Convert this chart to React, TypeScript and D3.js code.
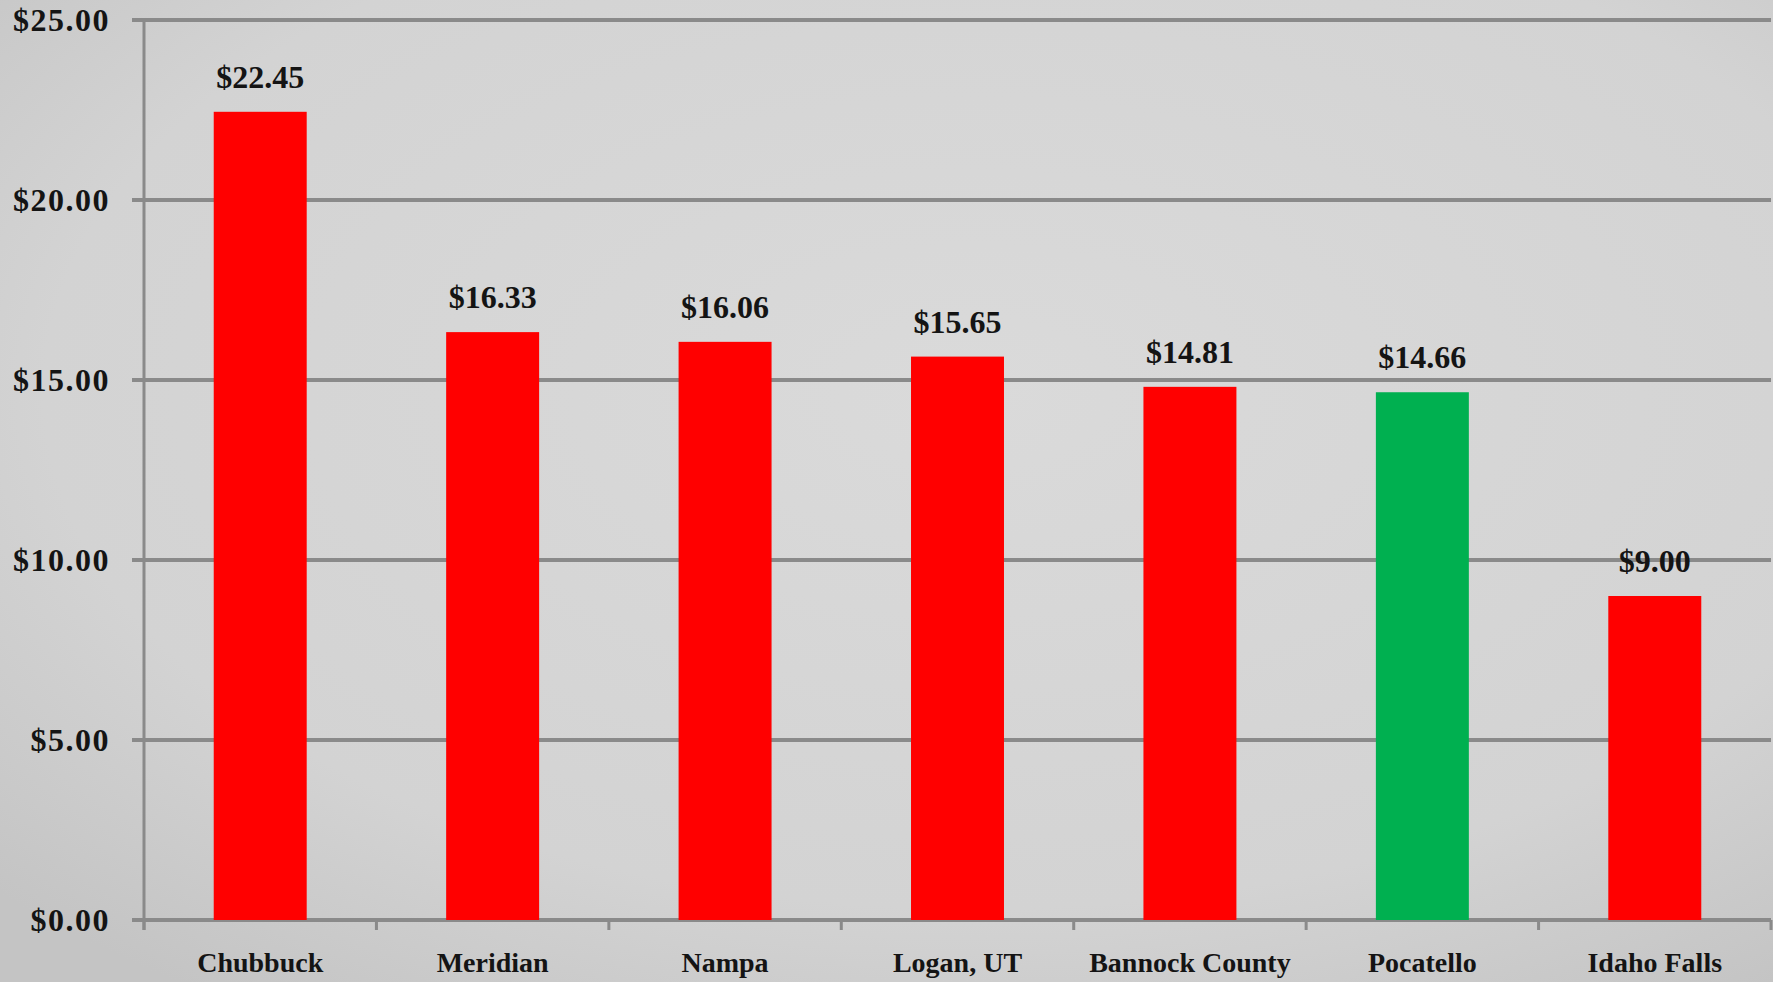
import { useEffect, useRef } from "react";
import * as d3 from "d3";

const categories = ["Chubbuck", "Meridian", "Nampa", "Logan, UT", "Bannock County", "Pocatello", "Idaho Falls"];
const values = [22.45, 16.33, 16.06, 15.65, 14.81, 14.66, 9.0];
const highlight = ["Pocatello"];
const yTicks = [0, 5, 10, 15, 20, 25];

const W = 1773;
const H = 982;

export default function App() {
  const svgRef = useRef<SVGSVGElement | null>(null);

  useEffect(() => {
    document.body.style.margin = "0";
    document.body.style.overflow = "hidden";
    if (!svgRef.current) return;
    const svg = d3.select(svgRef.current);
    svg.selectAll("*").remove();

    const margin = { top: 20, right: 2, bottom: 62, left: 144 };
    const innerW = W - margin.left - margin.right;
    const innerH = H - margin.top - margin.bottom;

    // background
    const defs = svg.append("defs");
    const grad = defs
      .append("radialGradient")
      .attr("id", "bg")
      .attr("cx", "55%")
      .attr("cy", "40%")
      .attr("r", "75%");
    grad.append("stop").attr("offset", "0%").attr("stop-color", "#dadada");
    grad.append("stop").attr("offset", "70%").attr("stop-color", "#d3d3d3");
    grad.append("stop").attr("offset", "100%").attr("stop-color", "#c4c4c4");
    svg.append("rect").attr("width", W).attr("height", H).attr("fill", "url(#bg)");

    const g = svg.append("g").attr("transform", `translate(${margin.left},${margin.top})`);

    const x = d3.scaleBand().domain(categories).range([0, innerW]).padding(0);
    const y = d3.scaleLinear().domain([0, 25]).range([innerH, 0]);
    const barW = x.step() * 0.4;

    // gridlines
    g.append("g")
      .selectAll("line")
      .data(yTicks)
      .join("line")
      .attr("x1", -12)
      .attr("x2", innerW)
      .attr("y1", (d) => y(d))
      .attr("y2", (d) => y(d))
      .attr("stroke", "#8a8a8a")
      .attr("stroke-width", 4);

    // y axis line
    g.append("line")
      .attr("x1", 0)
      .attr("x2", 0)
      .attr("y1", y(25))
      .attr("y2", innerH + 10)
      .attr("stroke", "#8a8a8a")
      .attr("stroke-width", 3);

    // x ticks at category boundaries
    const bounds = categories.map((c) => x(c) || 0).concat([innerW]);
    g.append("g")
      .selectAll("line")
      .data(bounds)
      .join("line")
      .attr("x1", (d) => d)
      .attr("x2", (d) => d)
      .attr("y1", innerH)
      .attr("y2", innerH + 10)
      .attr("stroke", "#8a8a8a")
      .attr("stroke-width", 3);

    // y tick labels
    g.append("g")
      .selectAll("text")
      .data(yTicks)
      .join("text")
      .attr("x", -34)
      .attr("y", (d) => y(d))
      .attr("dy", "0.35em")
      .attr("text-anchor", "end")
      .style("font-family", "'Liberation Serif', serif")
      .style("font-weight", "bold")
      .style("font-size", "32px")
      .style("letter-spacing", "1.5px")
      .attr("fill", "#141414")
      .text((d) => `$${d.toFixed(2)}`);

    // bars
    g.append("g")
      .selectAll("rect")
      .data(categories)
      .join("rect")
      .attr("x", (d) => (x(d) || 0) + x.step() / 2 - barW / 2)
      .attr("y", (_, i) => y(values[i]))
      .attr("width", barW)
      .attr("height", (_, i) => innerH - y(values[i]))
      .attr("fill", (d) => (highlight.includes(d) ? "#00b050" : "#ff0000"));

    // value labels
    g.append("g")
      .selectAll("text")
      .data(categories)
      .join("text")
      .attr("x", (d) => (x(d) || 0) + x.step() / 2)
      .attr("y", (_, i) => y(values[i]) - 24)
      .attr("text-anchor", "middle")
      .style("font-family", "'Liberation Serif', serif")
      .style("font-weight", "bold")
      .style("font-size", "32px")
      .attr("fill", "#141414")
      .text((_, i) => `$${values[i].toFixed(2)}`);

    // category labels
    g.append("g")
      .selectAll("text")
      .data(categories)
      .join("text")
      .attr("x", (d) => (x(d) || 0) + x.step() / 2)
      .attr("y", innerH + 52)
      .attr("text-anchor", "middle")
      .style("font-family", "'Liberation Serif', serif")
      .style("font-weight", "bold")
      .style("font-size", "28px")
      .attr("fill", "#141414")
      .text((d) => d);
  }, []);

  return (
    <div style={{ width: W, height: H }}>
      <svg ref={svgRef} width={W} height={H} style={{ display: "block" }}></svg>
    </div>
  );
}
